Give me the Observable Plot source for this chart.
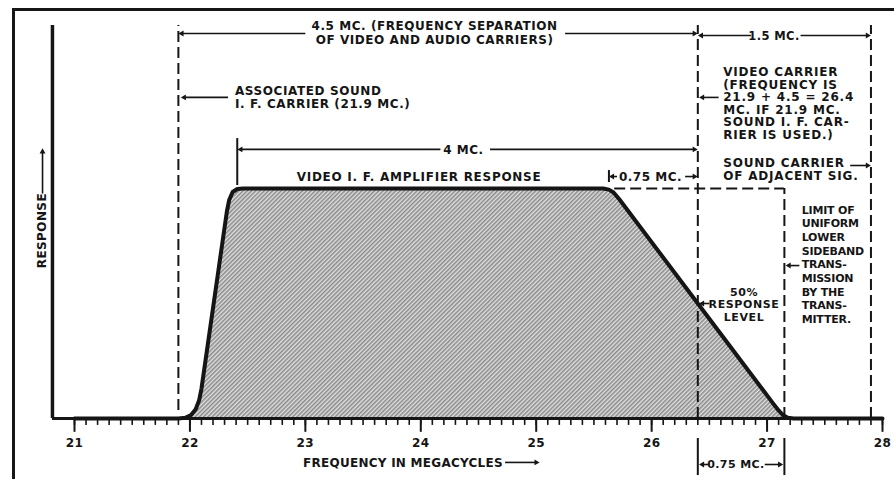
<!DOCTYPE html>
<html>
<head>
<meta charset="utf-8">
<script src="https://cdn.jsdelivr.net/npm/d3@7"></script>
<script src="https://cdn.jsdelivr.net/npm/@observablehq/plot@0.6"></script>
<style>
  body { margin: 0; background: #fff; }
  #wrap { position: relative; width: 894px; height: 479px; overflow: hidden; background: #fff; }
  #edge { position: absolute; left: 12px; top: 8px; right: 0; bottom: 0;
          border-left: 3px solid #161616; border-top: 3px solid #161616; pointer-events: none; }
  #wrap svg { position: absolute; left: 0; top: 0; }
</style>
</head>
<body>
<div id="wrap"><div id="edge"></div></div>
<script>
// Video I.F. amplifier response, frequency in megacycles
const freq     = [21.0, 21.9, 21.96, 22.01, 22.05, 22.08, 22.10, 22.32, 22.34, 22.37, 22.41, 22.46, 25.58, 25.63, 25.67, 25.72, 26.4, 27.05, 27.10, 27.14, 27.18, 27.23, 28.0];
const response = [0,    0,    0.003, 0.015, 0.04,  0.08,  0.13,  0.90,  0.95,  0.985, 0.998, 1.0,   1.0,   0.995, 0.983, 0.953, 0.5,  0.067, 0.035, 0.014, 0.003, 0,     0];

// Key carrier frequencies (Mc)
const soundIF = 21.9;        // associated sound I.F. carrier
const passStart = 22.4;      // start of the 4 Mc passband
const flatEnd = 25.65;       // end of flat response
const videoCarrier = 26.4;   // 21.9 + 4.5
const sidebandLimit = 27.15; // 26.4 + 0.75
const adjacentSound = 27.9;  // 26.4 + 1.5

const tickLabels = [21, 22, 23, 24, 25, 26, 27, 28];

const curve = freq.map((f, i) => ({f, r: response[i]}));
const minorTicks = d3.range(21, 28.0001, 0.1).map(v => Math.round(v * 10) / 10);

const yTop = 1.709, axisX = 20.809;

// dashed carrier markers
const dashedV = [
  {x: soundIF, y1: 0.035, y2: yTop},
  {x: videoCarrier, y1: 0, y2: yTop},
  {x: sidebandLimit, y1: 0, y2: 1.0},
  {x: adjacentSound, y1: 0, y2: yTop}
];
const dashedH = [{y: 1.0, x1: flatEnd + 0.03, x2: sidebandLimit}];

// solid stop bars
const bars = [
  {x: passStart + 0.01, y1: 1.013, y2: 1.217},
  {x: 25.63, y1: 1.026, y2: 1.078},
  {x: videoCarrier, y1: -0.087, y2: -0.248},
  {x: sidebandLimit, y1: -0.087, y2: -0.248}
];

// dimension arrows, head at (x2, y2)
const arrows = [
  {x1: 23.0, y1: 1.674, x2: soundIF + 0.03, y2: 1.674},
  {x1: 25.25, y1: 1.674, x2: videoCarrier - 0.03, y2: 1.674},
  {x1: 26.86, y1: 1.665, x2: videoCarrier + 0.03, y2: 1.665},
  {x1: 27.29, y1: 1.665, x2: adjacentSound - 0.03, y2: 1.665},
  {x1: 22.33, y1: 1.396, x2: soundIF + 0.05, y2: 1.396},
  {x1: 24.17, y1: 1.17, x2: passStart + 0.04, y2: 1.17},
  {x1: 24.6, y1: 1.17, x2: videoCarrier - 0.03, y2: 1.17},
  {x1: 25.70, y1: 1.052, x2: 25.66, y2: 1.052},
  {x1: 26.29, y1: 1.052, x2: videoCarrier - 0.03, y2: 1.052},
  {x1: 26.58, y1: 1.396, x2: videoCarrier + 0.04, y2: 1.396},
  {x1: 27.72, y1: 1.1, x2: adjacentSound - 0.03, y2: 1.1},
  {x1: 27.28, y1: 0.665, x2: sidebandLimit + 0.04, y2: 0.665},
  {x1: 26.5, y1: 0.5, x2: videoCarrier + 0.04, y2: 0.5},
  {x1: 20.723, y1: 0.978, x2: 20.723, y2: 1.16},
  {x1: 24.73, y1: -0.191, x2: 25.0, y2: -0.191},
  {x1: 26.5, y1: -0.2, x2: videoCarrier + 0.04, y2: -0.2},
  {x1: 26.98, y1: -0.2, x2: sidebandLimit - 0.04, y2: -0.2}
];

// text blocks: size in px, ls = letter spacing in px, lh = line height in em
const notes = [
  {x: 24.12, y: 1.678, text: "4.5 MC. (FREQUENCY SEPARATION\nOF VIDEO AND AUDIO CARRIERS)", anchor: "middle", lh: 1.15, size: 12, ls: 0.55},
  {x: 27.06, y: 1.665, text: "1.5 MC.", anchor: "middle", lh: 1.1, size: 11.5, ls: 0.4},
  {x: 22.39, y: 1.398, text: "ASSOCIATED SOUND\nI. F. CARRIER (21.9 MC.)", anchor: "start", lh: 1.1, size: 12, ls: 0.6},
  {x: 24.37, y: 1.17, text: "4 MC.", anchor: "middle", lh: 1.1, size: 12, ls: 0.5},
  {x: 23.985, y: 1.052, text: "VIDEO I. F. AMPLIFIER RESPONSE", anchor: "middle", lh: 1.1, size: 12, ls: 0.72},
  {x: 25.99, y: 1.052, text: "0.75 MC.", anchor: "middle", lh: 1.1, size: 12, ls: 0.5},
  {x: 26.62, y: 1.37, text: "VIDEO CARRIER\n(FREQUENCY IS\n21.9 + 4.5 = 26.4\nMC. IF 21.9 MC.\nSOUND I. F. CAR-\nRIER IS USED.)", anchor: "start", lh: 1.05, size: 12, ls: 0.8},
  {x: 26.62, y: 1.085, text: "SOUND CARRIER\nOF ADJACENT SIG.", anchor: "start", lh: 1.1, size: 12, ls: 0.8},
  {x: 27.30, y: 0.672, text: "LIMIT OF\nUNIFORM\nLOWER\nSIDEBAND\nTRANS-\nMISSION\nBY THE\nTRANS-\nMITTER.", anchor: "start", lh: 1.24, size: 11, ls: -0.2},
  {x: 26.8, y: 0.496, text: "50%\nRESPONSE\nLEVEL", anchor: "middle", lh: 1.13, size: 11, ls: 0.6},
  {x: 22.98, y: -0.191, text: "FREQUENCY IN MEGACYCLES", anchor: "start", lh: 1.1, size: 12, ls: 0.26},
  {x: 26.73, y: -0.2, text: "0.75 MC.", anchor: "middle", lh: 1.1, size: 11, ls: 0.4}
];

const ink = "#151515";

const chart = Plot.plot({
  width: 894,
  height: 479,
  marginLeft: 74, marginRight: 12, marginTop: 0, marginBottom: 61,
  x: {domain: [21, 28], range: [74, 882], axis: null},
  y: {domain: [0, 1], range: [418, 188], axis: null},
  style: {fontFamily: "'DejaVu Sans', sans-serif", fontWeight: "bold", fontSize: "11px", color: ink, background: "transparent"},
  marks: [
    // hatched region under the response curve
    Plot.areaY(curve, {x: "f", y: "r", fill: "url(#hatch)"}),
    // dashed carrier markers
    Plot.ruleX(dashedV, {x: "x", y1: "y1", y2: "y2", stroke: ink, strokeWidth: 2, strokeDasharray: "11,5"}),
    Plot.ruleY(dashedH, {y: "y", x1: "x1", x2: "x2", stroke: ink, strokeWidth: 2, strokeDasharray: "11,5"}),
    Plot.ruleX(bars, {x: "x", y1: "y1", y2: "y2", stroke: ink, strokeWidth: 2}),
    // axes lines
    Plot.ruleX([axisX], {y1: 0, y2: yTop, stroke: ink, strokeWidth: 3.5}),
    Plot.ruleY([0], {x1: axisX, x2: 28, stroke: ink, strokeWidth: 3}),
    Plot.ruleX(minorTicks, {y1: 0, y2: -0.03, stroke: ink, strokeWidth: 1.6}),
    Plot.ruleX(tickLabels, {y1: 0, y2: -0.06, stroke: ink, strokeWidth: 2}),
    Plot.text(tickLabels, {x: d => d, y: -0.109, text: d => String(d), fontSize: 12}),
    // response curve
    Plot.line(curve, {x: "f", y: "r", stroke: ink, strokeWidth: 4, strokeLinejoin: "round", strokeLinecap: "round"}),
    // dimension arrows
    Plot.link(arrows, {x1: "x1", y1: "y1", x2: "x2", y2: "y2", stroke: ink, strokeWidth: 1.6}),
    Plot.dot(arrows, {x: "x2", y: "y2", symbol: "triangle2", r: 2.8, fill: ink,
      rotate: d => d.x2 < d.x1 ? -90 : d.x2 > d.x1 ? 90 : 0}),
    // labels
    ...notes.map(n => Plot.text([n], {x: "x", y: "y", text: "text", textAnchor: n.anchor, lineHeight: n.lh, fontSize: n.size, fill: ink})),
    Plot.text(["RESPONSE"], {x: 20.723, y: 0.817, text: d => d, rotate: -90, fontSize: 12, fill: ink})
  ]
});

// letter spacing per text block (text groups follow mark order)
const textGroups = chart.querySelectorAll('g[aria-label="text"]');
textGroups.forEach((g, i) => {
  const n = notes[i - 1];
  g.style.letterSpacing = n ? n.ls + "px" : "0.4px";
});

// diagonal hatch fill
const defs = d3.select(chart).insert("defs", ":first-child");
const pat = defs.append("pattern")
  .attr("id", "hatch")
  .attr("patternUnits", "userSpaceOnUse")
  .attr("width", 3).attr("height", 3)
  .attr("patternTransform", "rotate(45)");
pat.append("rect").attr("width", 3).attr("height", 3).attr("fill", "#e0e0e0");
pat.append("line").attr("x1", 0.8).attr("y1", 0).attr("x2", 0.8).attr("y2", 3)
  .attr("stroke", "#7a7a7a").attr("stroke-width", 1.3);

document.getElementById("wrap").prepend(chart);
</script>
</body>
</html>
